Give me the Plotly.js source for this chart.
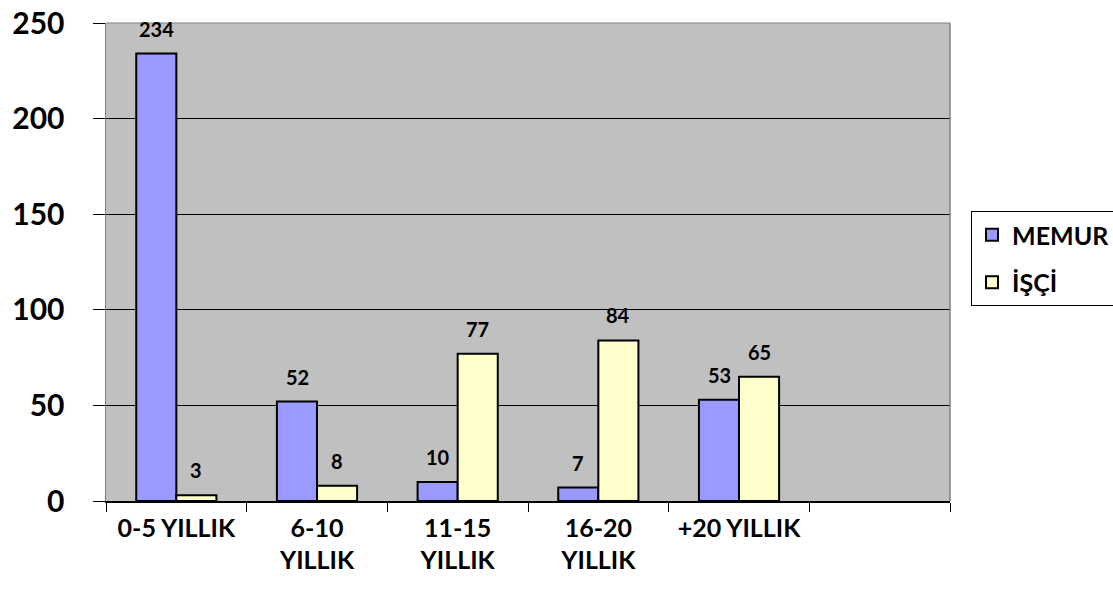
<!DOCTYPE html>
<html><head><meta charset="utf-8">
<script src="https://cdn.plot.ly/plotly-3.0.1.min.js"></script>
<style>html,body{margin:0;padding:0;background:#fff;}#chart{width:1113px;height:598px;}</style>
</head><body><div id="chart"></div>
<script>
const categories = ["0-5 YILLIK", "6-10<br>YILLIK", "11-15<br>YILLIK", "16-20<br>YILLIK", "+20 YILLIK", " "];
const memur = [234, 52, 10, 7, 53];
const isci = [3, 8, 77, 84, 65];
const seriesNames = ["MEMUR", "İŞÇİ"];
const yTicks = [0, 50, 100, 150, 200, 250];

const FONT = "Lato, 'Open Sans', sans-serif";
const cats5 = categories.slice(0, 5);
const traces = [
  {type: "bar", name: seriesNames[0], x: cats5, y: memur, legendgroup: "a",
   marker: {color: "#9999FF", line: {color: "#000", width: 2}}, hoverinfo: "none"},
  {type: "bar", name: seriesNames[1], x: cats5, y: isci, legendgroup: "b",
   marker: {color: "#FFFFCC", line: {color: "#000", width: 2}}, hoverinfo: "none"}
];
const labelFont = {family: FONT, size: 20, color: "#000", weight: "bold"};
const annotations = [];
[memur, isci].forEach((vals, s) => {
  vals.forEach((v, i) => {
    annotations.push({x: cats5[i], y: v, xref: "x", yref: "y", text: String(v),
      showarrow: false, xanchor: "center", yanchor: "middle",
      xshift: s === 0 ? -20 : 20, yshift: 25, font: labelFont});
  });
});
const layout = {
  width: 1113, height: 598,
  margin: {l: 106, r: 163, t: 23, b: 97},
  paper_bgcolor: "#fff",
  plot_bgcolor: "#C0C0C0",
  barmode: "group",
  bargap: 0.43,
  bargroupgap: 0,
  font: {family: FONT, color: "#000"},
  annotations: annotations,
  xaxis: {
    type: "category",
    categoryorder: "array",
    categoryarray: categories,
    range: [-0.5, 5.5],
    tickson: "boundaries",
    ticks: "outside", ticklen: 9, tickcolor: "#000", tickwidth: 1,
    showline: true, linecolor: "#000", linewidth: 1.5,
    showgrid: false,
    tickfont: {family: FONT, size: 25, color: "#000", weight: "bold"},
    ticklabelstandoff: 4,
    tickangle: 0,
    automargin: false
  },
  yaxis: {
    range: [0, 250],
    tickvals: yTicks,
    ticktext: yTicks.map(String),
    ticks: "outside", ticklen: 12, tickcolor: "#000", tickwidth: 1,
    showline: true, linecolor: "#808080", linewidth: 1.5,
    showgrid: true, gridcolor: "#000", gridwidth: 1,
    zeroline: false,
    tickfont: {family: FONT, size: 30, color: "#000", weight: "bold"},
    ticklabelstandoff: 22,
    automargin: false
  },
  shapes: [
    {type: "line", xref: "paper", yref: "paper", x0: 1, x1: 1, y0: 0, y1: 1, line: {color: "#808080", width: 1.5}},
    {type: "line", xref: "paper", yref: "paper", x0: 0, x1: 1, y0: 1, y1: 1, line: {color: "#808080", width: 1}}
  ],
  showlegend: true,
  legend: {
    xref: "container", yref: "container",
    x: 971 / 1113, y: 1 - 211 / 598, xanchor: "left", yanchor: "top",
    bgcolor: "#fff", bordercolor: "#000", borderwidth: 1,
    font: {family: FONT, size: 25, color: "#000", weight: "bold"},
    traceorder: "grouped", tracegroupgap: 12,
    itemwidth: 30
  }
};
Plotly.newPlot("chart", traces, layout, {displayModeBar: false, staticPlot: true});
</script></body></html>
